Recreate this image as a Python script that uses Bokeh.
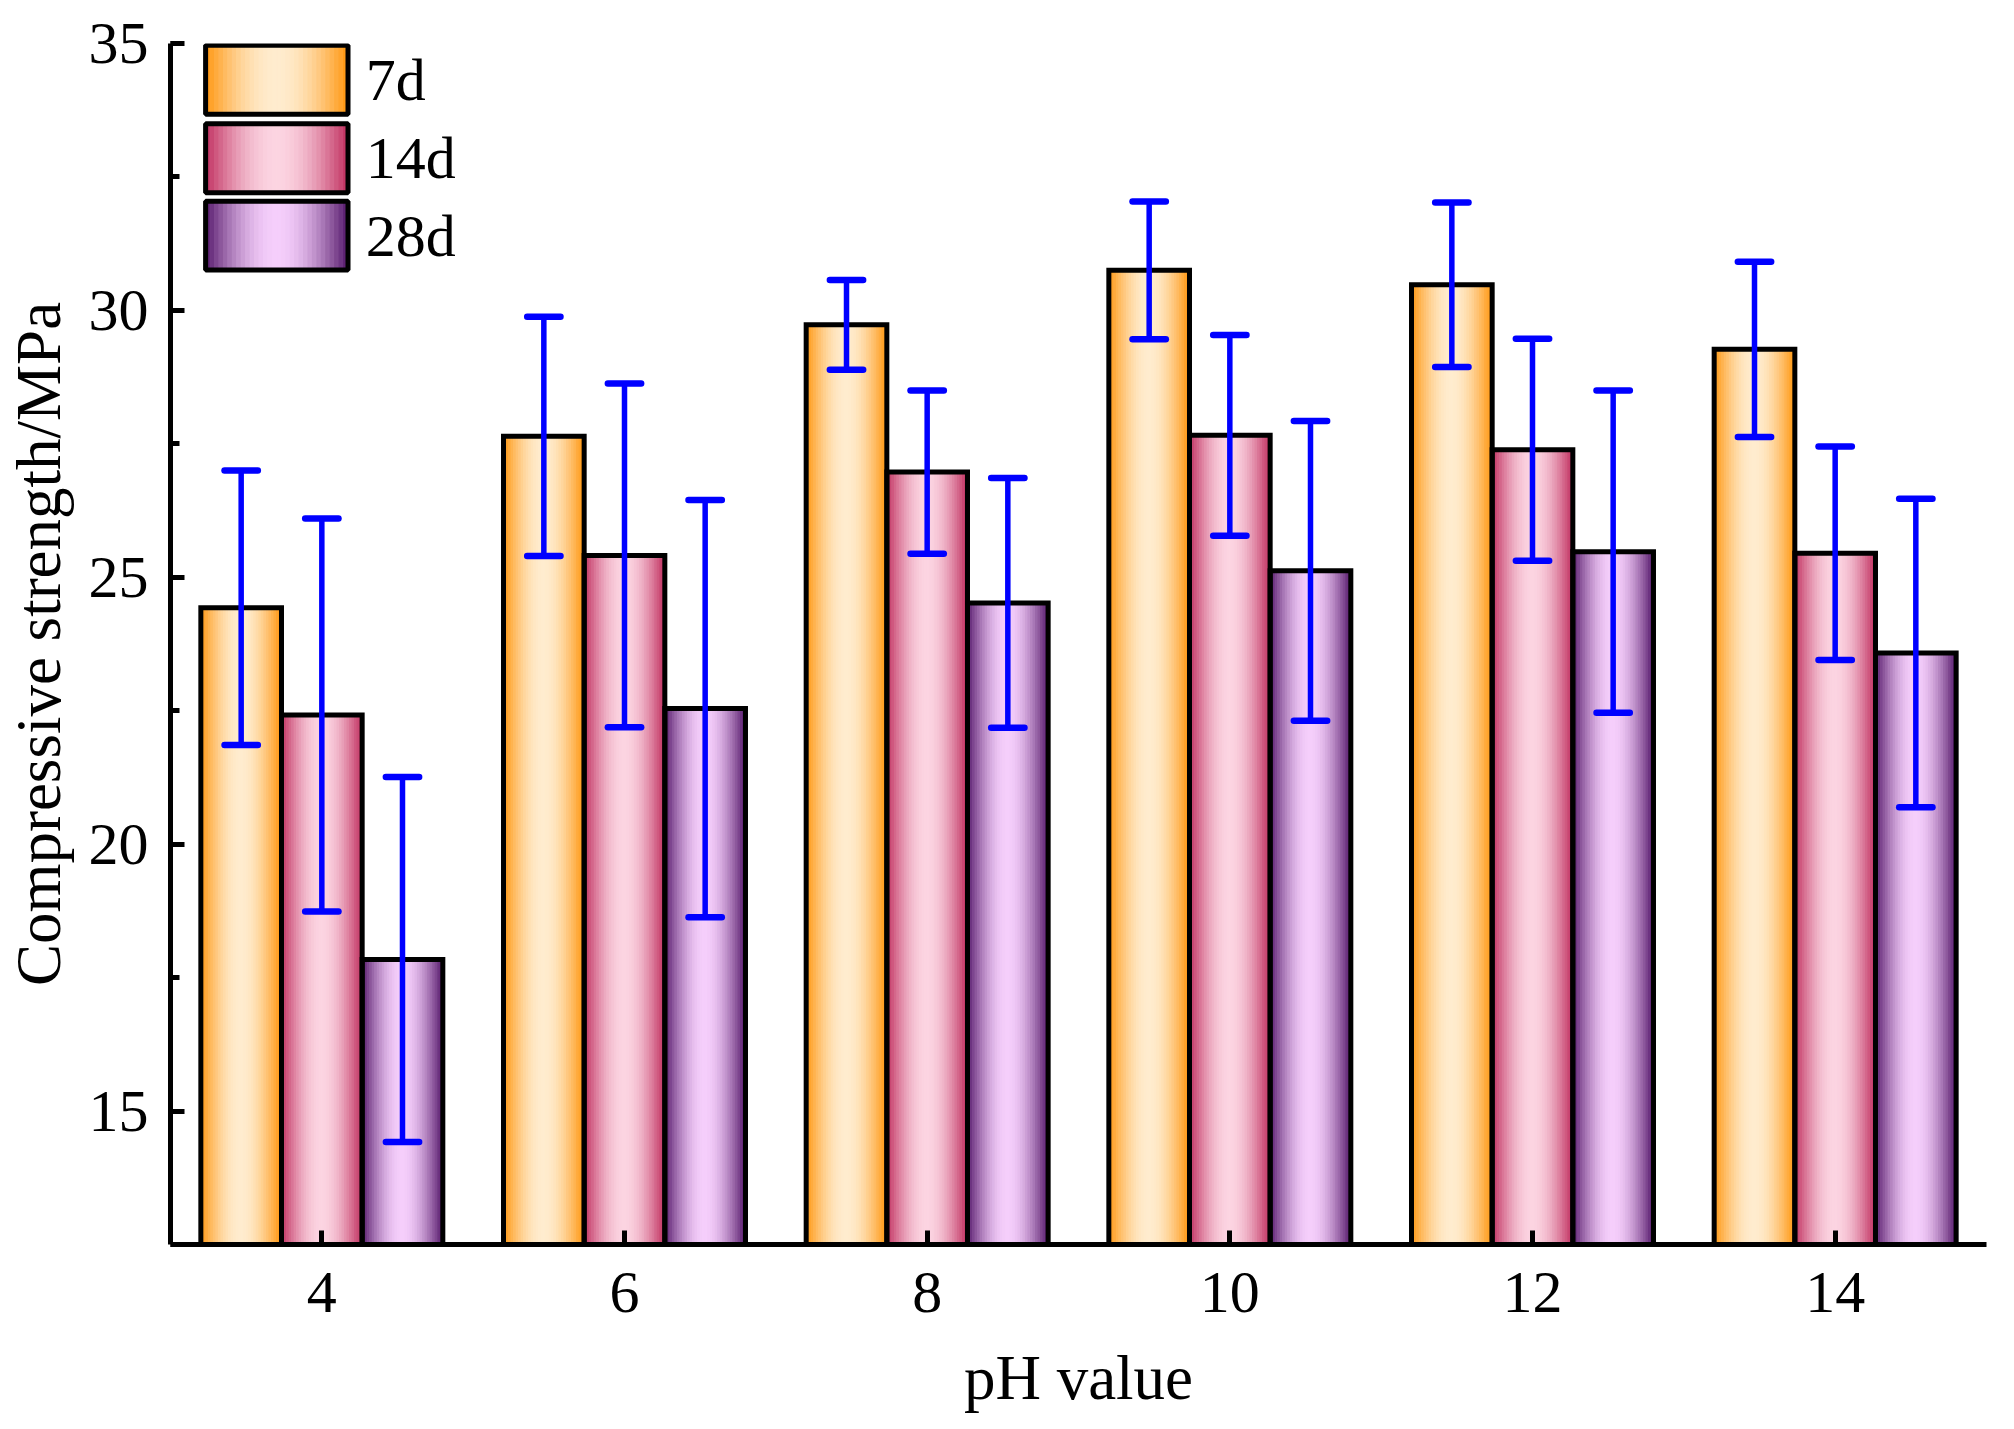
import numpy as np
from bokeh.plotting import figure
from bokeh.models import Range1d, FixedTicker, SingleIntervalTicker, ColumnDataSource
from bokeh.core.properties import value
from bokeh.embed import file_html
from bokeh.resources import INLINE

# ---------------- data ----------------
ph = [4, 6, 8, 10, 12, 14]
series = ["7d", "14d", "28d"]
d7 = [24.43, 27.64, 29.73, 30.75, 30.48, 29.27]
d14 = [22.42, 25.41, 26.97, 27.66, 27.39, 25.45]
d28 = [17.84, 22.54, 24.52, 25.12, 25.48, 23.58]
e7 = [2.57, 2.24, 0.84, 1.29, 1.54, 1.64]
e14 = [3.68, 3.22, 1.53, 1.88, 2.08, 2.00]
e28 = [3.42, 3.91, 2.34, 2.81, 3.02, 2.89]
y_ticks = [15, 20, 25, 30, 35]

# ---------------- styles ----------------
FONT = "Liberation Serif"
edge_colors = [(255, 150, 15), (192, 48, 96), (86, 26, 108)]
center_colors = [(255, 236, 206), (252, 212, 225), (245, 206, 251)]
BAR_W = 0.533
NSTRIP = 32
ERR_COLOR = "#0000FF"
CAP_HALF = 0.11

values = [d7, d14, d28]
errors = [e7, e14, e28]
offsets = [-BAR_W, 0.0, BAR_W]


def gradient(k):
    cols = []
    e = np.array(edge_colors[k], float)
    c = np.array(center_colors[k], float)
    for j in range(NSTRIP):
        t = (j + 0.5) / NSTRIP
        f = np.sin(np.pi * t) ** 1.0
        rgb = e + (c - e) * f
        cols.append("#%02x%02x%02x" % tuple(int(round(v)) for v in rgb))
    return cols


grads = [gradient(k) for k in range(3)]

X_RANGE = (3, 15)
Y_RANGE = (12.5, 35)

p = figure(width=2000, height=1415, output_backend="svg", toolbar_location=None,
           x_range=Range1d(*X_RANGE), y_range=Range1d(*Y_RANGE),
           min_border_left=170, min_border_right=14, min_border_top=43, min_border_bottom=171)
p.outline_line_color = None
p.xgrid.visible = False
p.ygrid.visible = False
p.background_fill_color = "white"
p.border_fill_color = "white"

# gradient strips of bars
sl, sr, st, sb, sc = [], [], [], [], []
ol, orr, ot = [], [], []
for k in range(3):
    for i, x in enumerate(ph):
        left = x + offsets[k] - BAR_W / 2
        top = values[k][i]
        ol.append(left); orr.append(left + BAR_W); ot.append(top)
        for j in range(NSTRIP):
            l = left + BAR_W * j / NSTRIP
            sl.append(l); sr.append(l + BAR_W / NSTRIP)
            st.append(top); sb.append(0); sc.append(grads[k][j])

p.quad(left="l", right="r", top="t", bottom="b", fill_color="c", line_color="c", line_width=1,
       source=ColumnDataSource(dict(l=sl, r=sr, t=st, b=sb, c=sc)))
p.quad(left=ol, right=orr, top=ot, bottom=[0] * len(ol), fill_alpha=0,
       line_color="black", line_width=5, line_join="miter")

# error bars
x0, y0, y1 = [], [], []
cx0, cx1, cy = [], [], []
for k in range(3):
    for i, x in enumerate(ph):
        xc = x + offsets[k]
        lo = values[k][i] - errors[k][i]
        hi = values[k][i] + errors[k][i]
        x0.append(xc); y0.append(lo); y1.append(hi)
        for yy in (lo, hi):
            cx0.append(xc - CAP_HALF); cx1.append(xc + CAP_HALF); cy.append(yy)
p.segment(x0=x0, x1=x0, y0=y0, y1=y1, line_color=ERR_COLOR, line_width=5.5)
p.segment(x0=cx0, x1=cx1, y0=cy, y1=cy, line_color=ERR_COLOR, line_width=6.5, line_cap="round")

# legend (manual, gradient swatches)
LEG_L, LEG_R = 3.232, 4.173
LEG_ROWS = [34.32, 32.85, 31.40]
LEG_HH = 0.645
LEG_TX = 4.29
gl, gr, gt, gb, gc = [], [], [], [], []
for k in range(3):
    yc = LEG_ROWS[k]
    for j in range(NSTRIP):
        l = LEG_L + (LEG_R - LEG_L) * j / NSTRIP
        gl.append(l); gr.append(l + (LEG_R - LEG_L) / NSTRIP)
        gt.append(yc + LEG_HH); gb.append(yc - LEG_HH); gc.append(grads[k][j])
p.quad(left="l", right="r", top="t", bottom="b", fill_color="c", line_color="c", line_width=1,
       source=ColumnDataSource(dict(l=gl, r=gr, t=gt, b=gb, c=gc)))
p.quad(left=[LEG_L] * 3, right=[LEG_R] * 3, top=[y + LEG_HH for y in LEG_ROWS],
       bottom=[y - LEG_HH for y in LEG_ROWS], fill_alpha=0, line_color="black", line_width=5)
p.text(x=[LEG_TX] * 3, y=LEG_ROWS, text=series, text_font=value(FONT), text_font_size="60px",
       text_baseline="middle", text_align="left", text_color="black")

# axes
xa = p.xaxis[0]
ya = p.yaxis[0]
xa.ticker = FixedTicker(ticks=ph)
xa.major_label_overrides = {x: str(x) for x in ph}
ya.ticker = SingleIntervalTicker(interval=5, num_minor_ticks=2)
for ax in (xa, ya):
    ax.axis_line_width = 5
    ax.axis_line_color = "black"
    ax.major_tick_line_width = 5
    ax.major_tick_in = 14
    ax.major_tick_out = 0
    ax.major_tick_line_color = "black"
    ax.major_label_text_font = FONT
    ax.major_label_text_font_size = "60px"
    ax.major_label_text_color = "black"
    ax.axis_label_text_font = FONT
    ax.axis_label_text_font_size = "63px"
    ax.axis_label_text_font_style = "normal"
    ax.axis_label_text_color = "black"
xa.minor_tick_line_color = None
ya.minor_tick_in = 9
ya.minor_tick_out = 0
ya.minor_tick_line_width = 5
ya.minor_tick_line_color = "black"
xa.major_label_standoff = 28
ya.major_label_standoff = 22
xa.axis_label = "pH value"
ya.axis_label = "Compressive strength/MPa"
xa.axis_label_standoff = 28
ya.axis_label_standoff = 12

open("out.html", "w").write(file_html(p, INLINE))
